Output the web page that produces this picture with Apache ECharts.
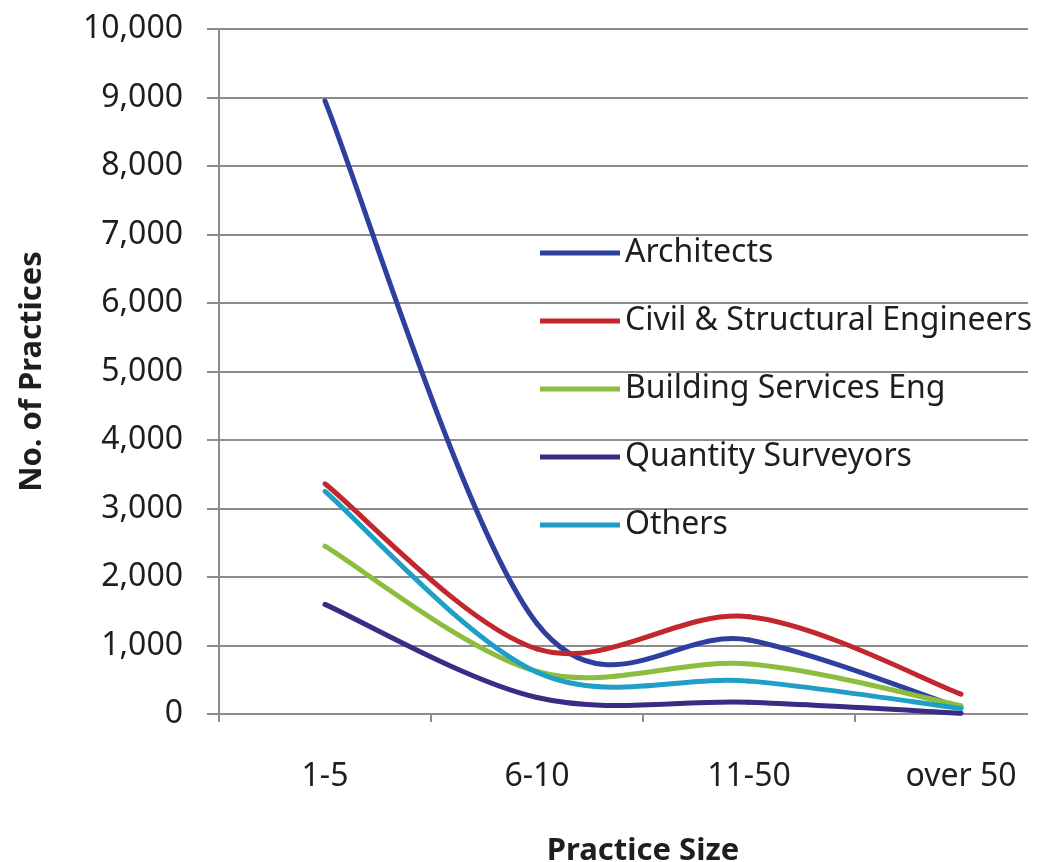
<!DOCTYPE html>
<html>
<head>
<meta charset="utf-8">
<script src="https://cdn.jsdelivr.net/npm/echarts@6/dist/echarts.min.js"></script>
<style>
  html, body { margin: 0; padding: 0; background: #ffffff; }
  #chart { width: 1041px; height: 862px; }
</style>
</head>
<body>
<div id="chart"></div>
<script>
const categories = ['1-5', '6-10', '11-50', 'over 50'];
const architects = [8950, 1320, 1080, 90];
const civilStructural = [3360, 950, 1420, 290];
const buildingServices = [2450, 620, 730, 120];
const quantitySurveyors = [1600, 240, 170, 10];
const others = [3250, 610, 480, 80];
const yTicks = { min: 0, max: 10000, interval: 1000 };

const FONT = '"Noto Sans", "Open Sans", sans-serif';
const GRIDCOL = '#8c8c8c';
const TEXTCOL = '#1e1e1e';

function fmt(v) { return v.toLocaleString('en-US'); }

// Smoothed line (Catmull-Rom style bezier, like spreadsheet "smoothed line"),
// positioned through the chart's own category/value axes via api.coord.
function curve(name, values, color) {
  const n = values.length;
  return {
    name: name, type: 'custom', coordinateSystem: 'cartesian2d',
    xAxisIndex: 0, yAxisIndex: 0,
    data: values.map(function (v, i) { return [i, v]; }),
    encode: { x: 0, y: 1 },
    itemStyle: { color: color },
    renderItem: function (params, api) {
      const i = params.dataIndex;
      if (i >= n - 1) return null;
      function P(j) {
        const k = Math.max(0, Math.min(n - 1, j));
        return api.coord([k, values[k]]);
      }
      const p0 = P(i - 1), p1 = P(i), p2 = P(i + 1), p3 = P(i + 2);
      return {
        type: 'bezierCurve',
        shape: {
          x1: p1[0], y1: p1[1], x2: p2[0], y2: p2[1],
          cpx1: p1[0] + (p2[0] - p0[0]) / 6, cpy1: p1[1] + (p2[1] - p0[1]) / 6,
          cpx2: p2[0] - (p3[0] - p1[0]) / 6, cpy2: p2[1] - (p3[1] - p1[1]) / 6
        },
        style: { stroke: color, lineWidth: 5, fill: 'none', lineCap: 'round' }
      };
    }
  };
}

const chart = echarts.init(document.getElementById('chart'));
chart.setOption({
  backgroundColor: '#ffffff',
  animation: false,
  textStyle: { fontFamily: FONT },
  grid: [
    { left: 219, top: 29, width: 848, height: 685, containLabel: false, outerBoundsMode: 'none' },
    { left: 219, top: 29, width: 809, height: 685, containLabel: false, outerBoundsMode: 'none' }
  ],
  legend: {
    orient: 'vertical', left: 535, top: 231,
    icon: 'rect', itemWidth: 80, itemHeight: 5, itemGap: 34,
    textStyle: { fontSize: 32, color: TEXTCOL, fontFamily: FONT, lineHeight: 34 },
    data: ['Architects', 'Civil & Structural Engineers', 'Building Services Eng', 'Quantity Surveyors', 'Others']
  },
  xAxis: [
    {
      type: 'category', gridIndex: 0, data: categories, boundaryGap: true,
      name: 'Practice Size', nameLocation: 'middle', nameGap: 122,
      nameTextStyle: { fontSize: 31, fontWeight: 'bold', color: TEXTCOL, fontFamily: FONT },
      axisLine: { show: false },
      axisTick: { show: true, length: 8, lineStyle: { color: GRIDCOL, width: 2 } },
      axisLabel: { fontSize: 32, color: TEXTCOL, margin: 47, fontFamily: FONT },
      splitLine: { show: false }
    },
    {
      type: 'category', gridIndex: 1, data: categories, show: false
    }
  ],
  yAxis: [
    {
      type: 'value', gridIndex: 0, min: yTicks.min, max: yTicks.max, interval: yTicks.interval,
      show: false
    },
    {
      type: 'value', gridIndex: 1, min: yTicks.min, max: yTicks.max, interval: yTicks.interval,
      name: 'No. of Practices', nameLocation: 'middle', nameGap: 171, nameRotate: 90,
      nameTextStyle: { fontSize: 31, fontWeight: 'bold', color: TEXTCOL, fontFamily: FONT },
      axisLine: { show: true, lineStyle: { color: GRIDCOL, width: 2 } },
      axisTick: { show: true, inside: false, length: 12, lineStyle: { color: GRIDCOL, width: 2 } },
      axisLabel: { fontSize: 32, color: TEXTCOL, margin: 36, fontFamily: FONT, formatter: fmt },
      splitLine: { show: true, lineStyle: { color: GRIDCOL, width: 2 } }
    }
  ],
  series: [
    curve('Architects', architects, '#2f3f9e'),
    curve('Civil & Structural Engineers', civilStructural, '#c1272d'),
    curve('Building Services Eng', buildingServices, '#8dbd3e'),
    curve('Quantity Surveyors', quantitySurveyors, '#3b2b85'),
    curve('Others', others, '#1f9fc6')
  ]
});
</script>
</body>
</html>
